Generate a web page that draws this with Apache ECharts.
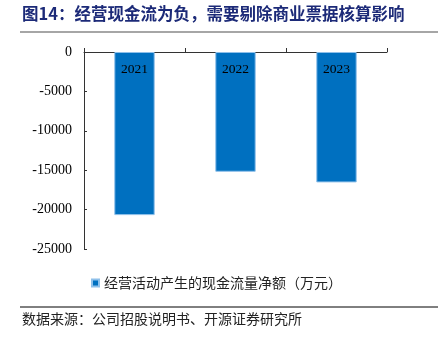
<!DOCTYPE html>
<html><head><meta charset="utf-8">
<script src="https://cdn.jsdelivr.net/npm/echarts@6/dist/echarts.min.js"></script>
<style>html,body{margin:0;padding:0;background:#fff}#c{width:438px;height:338px}</style>
</head><body><div id="c"></div>
<script>
var categories = ['2021', '2022', '2023'];
var cashFlow = [-20700, -15200, -16550];
var yTicks = [0, -5000, -10000, -15000, -20000, -25000];
var seriesName = '经营活动产生的现金流量净额（万元）';
var titleText = '图14：经营现金流为负，需要剔除商业票据核算影响';
var sourceText = '数据来源：公司招股说明书、开源证券研究所';

var chart = echarts.init(document.getElementById('c'));
chart.setOption({
  animation: false,
  grid: {left: 84, right: 51, top: 52, bottom: 89},
  xAxis: {
    type: 'category', data: categories, position: 'top',
    axisLine: {lineStyle: {color: '#333', width: 1}},
    axisTick: {show: true, length: 4, lineStyle: {color: '#333'}},
    axisLabel: {show: false}
  },
  yAxis: {
    type: 'value', min: yTicks[yTicks.length-1], max: yTicks[0], interval: 5000,
    axisLine: {show: true, lineStyle: {color: '#333'}},
    axisTick: {show: true, inside: true, length: 3, lineStyle: {color: '#333'}},
    splitLine: {show: false},
    axisLabel: {color: '#000', fontFamily: 'Liberation Serif', fontSize: 14, margin: 12,
      formatter: function (v) { return String(v); }}
  },
  legend: {
    data: [seriesName], left: 86, top: 271, icon: 'rect', itemWidth: 7, itemHeight: 7, itemGap: 4,
    textStyle: {fontFamily: 'Noto Sans CJK SC', fontSize: 14, color: '#222'}
  },
  series: [{
    name: seriesName, type: 'bar', data: cashFlow, barWidth: '40%',
    itemStyle: {color: '#0070C0', borderColor: '#8ec0ea', borderWidth: 1},
    label: {show: true, position: 'insideTop', distance: 10, formatter: '{b}',
      color: '#000', fontFamily: 'Liberation Serif', fontSize: 13.5}
  }],
  graphic: [
    {type: 'text', left: 22, top: 5, style: {text: titleText, fill: '#1c2a78',
      font: 'bold 16.5px "Noto Sans CJK SC"'}},
    {type: 'line', shape: {x1: 20, y1: 32, x2: 438, y2: 32}, style: {stroke: '#888', lineWidth: 1.5}},
    {type: 'line', shape: {x1: 20, y1: 307, x2: 438, y2: 307}, style: {stroke: '#000', lineWidth: 1}},
    {type: 'text', left: 22, top: 312, style: {text: sourceText, fill: '#222',
      font: '14px "Noto Sans CJK SC"'}}
  ]
});
</script></body></html>
